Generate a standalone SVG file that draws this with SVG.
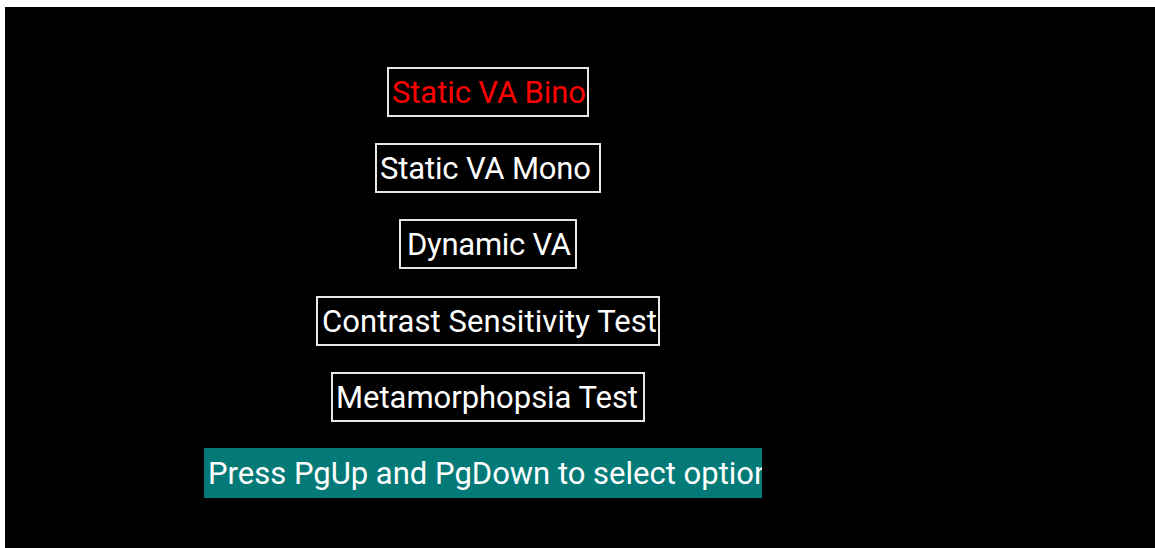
<svg xmlns="http://www.w3.org/2000/svg" width="1155" height="548" viewBox="0 0 1155 548">
<style>
.box{fill:#000;stroke:#e6e6e6;stroke-width:2}
.t{font-family:Roboto,"Liberation Sans",sans-serif;font-size:31px;fill:#fff;text-anchor:middle}
</style>
<defs>
<clipPath id="barclip"><rect x="204" y="448" width="558" height="50"/></clipPath>
</defs>
<rect x="0" y="0" width="1155" height="548" fill="#fff"/>
<rect x="5" y="7" width="1150" height="541" fill="#000"/>
<g id="opt-bino">
<rect class="box" x="388" y="68" width="200" height="48"/>
<text class="t" x="489" y="103" textLength="194" style="fill:#ff0000">Static VA Bino</text>
</g>
<g id="opt-mono">
<rect class="box" x="376" y="144" width="224" height="48"/>
<text class="t" x="485.5" y="179" textLength="211">Static VA Mono</text>
</g>
<g id="opt-dynamic">
<rect class="box" x="400" y="220" width="176" height="48"/>
<text class="t" x="489" y="255" textLength="164">Dynamic VA</text>
</g>
<g id="opt-contrast">
<rect class="box" x="317" y="297" width="342" height="48"/>
<text class="t" x="489.5" y="332" textLength="335">Contrast Sensitivity Test</text>
</g>
<g id="opt-meta">
<rect class="box" x="332" y="373" width="312" height="48"/>
<text class="t" x="487" y="408" textLength="302">Metamorphopsia Test</text>
</g>
<g id="hint">
<rect x="204" y="448" width="558" height="50" fill="#037a77"/>
<text x="208" y="484" clip-path="url(#barclip)" style="font-family:Roboto,'Liberation Sans',sans-serif;font-size:31px;fill:#fff">Press PgUp and PgDown to select option</text>
</g>
<g id="connectors"/>
</svg>
